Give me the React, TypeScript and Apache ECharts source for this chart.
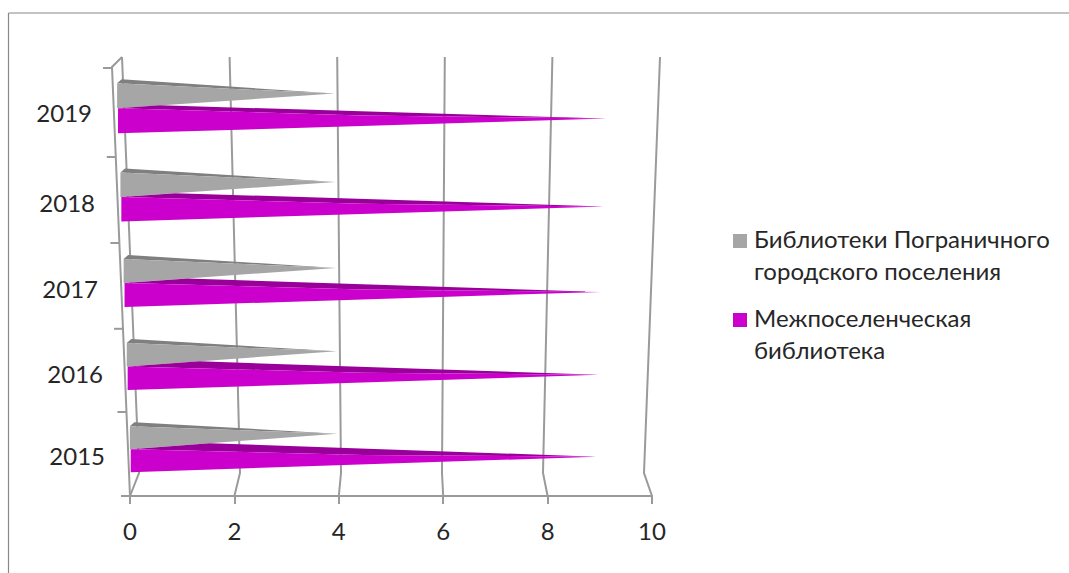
import React, { useEffect, useRef } from "react";
import * as echarts from "echarts";

const years = ["2015", "2016", "2017", "2018", "2019"];
const borderLibraries = [4, 4, 4, 4, 4];
const interLibrary = [9, 9, 9, 9, 9];
const gridValues = [0, 2, 4, 6, 8, 10];
const grayName = "Библиотеки Пограничного городского поселения";
const pinkName = "Межпоселенческая библиотека";
const legendWrapped: Record<string, string> = {
  [grayName]: "{e| }\n{t|Библиотеки Пограничного}\n{t|городского поселения}",
  [pinkName]: "{e| }\n{t|Межпоселенческая}\n{t|библиотека}",
};
const labelShiftRight = [0, 2, 7, 10, 13];
const labelShiftDown = [2.5, 6, 6.5, 6.5, 2];
const tickShift = [0, 1.6, 4, 3.8, 3.4, 0];
const pinkPeak = [79, 72, 63, 54, 42];
const coneShift = [-4, -1, 1, 0.5, -2.5];

const FONT = "Lato, 'Open Sans', sans-serif";
const TEXT = "#262626";
const LINE = "#9a9a9a";

const lerp = (a: number, b: number, t: number) => a + (b - a) * t;
// horizontal lean of the cones caused by the 3D perspective
const lean = (v: number, y: number) => {
  const t = (460 - y) / 340;
  return lerp(0.7 - 0.5 * v, -12 + 2 * v, t);
};
// lean of the back wall
const wallLean = (v: number, t: number) => lerp(9 - 1.7 * v, -8 + 1.6 * v, t);

const line = (pts: number[][]) => ({
  type: "polyline",
  silent: true,
  shape: { points: pts },
  style: { stroke: LINE, lineWidth: 2, fill: "none" },
});

const renderFrame = (params: any, api: any) => {
  const v = api.value(0);
  const band = api.size([0, 1])[1];
  const [fx, cy] = api.coord([v, 0]);
  const base = cy + band / 2;
  const backY = base - 23;
  const topY = base - 439;
  const children: any[] = [
    line([
      [fx, base],
      [fx + wallLean(v, 0), backY],
      [fx + wallLean(v, 1), topY],
    ]),
  ];
  if (params.dataIndex === 0) {
    const frontAt = (y: number) => lerp(fx, fx - 18, (base - y) / (base - 67));
    children.push(
      line([
        [fx, base],
        [fx - 18, base - 429],
        [fx + wallLean(v, 1), topY],
      ]),
    );
    tickShift.forEach((s, i) => {
      const y = base - band * i + s;
      children.push(line([[frontAt(y) - 9, y], [frontAt(y), y]]));
    });
  }
  return { type: "group", children };
};

const renderCone = (light: string, dark: string, pink: boolean) => (params: any, api: any) => {
  const i = api.value(1);
  const val = api.value(0);
  const [, cy] = api.coord([0, i]);
  const y0 = cy + coneShift[i];
  const h = lerp(23, 25, i / 4);
  const topY = pink ? y0 : y0 - h;
  const botY = topY + h;
  const x = api.coord([0, i])[0] + lean(0, (topY + botY) / 2);
  const tipY = (topY + botY) / 2 - lerp(4, 2.2, i / 4);
  const tipX = api.coord([val, i])[0] + lean(val, tipY);
  const peak = pink ? [x + pinkPeak[i], topY - lerp(6, 3, i / 4)] : [x + 4.5, topY - 4];
  // the lit face of the long cone bends slightly at mid-length
  const bend = pink ? [[(x + tipX) / 2, (topY + tipY) / 2 + 2]] : [];
  return {
    type: "group",
    children: [
      {
        type: "polygon",
        shape: { points: [[x, topY], peak, [tipX, tipY], ...bend] },
        style: { fill: dark },
      },
      {
        type: "polygon",
        shape: { points: [[x, topY], ...bend, [tipX, tipY], [x, botY]] },
        style: { fill: light },
      },
    ],
  };
};

const toRows = (vals: number[]) => vals.map((v, i) => [v, i]);

export default function App() {
  const ref = useRef<HTMLDivElement>(null);
  useEffect(() => {
    const chart = echarts.init(ref.current!, undefined, { renderer: "svg" });
    const rich: Record<string, any> = {};
    years.forEach((y, i) => {
      rich["y" + y] = {
        fontFamily: FONT,
        fontSize: 24,
        color: TEXT,
        padding: [labelShiftDown[i] * 2, labelShiftRight[i], 0, 0],
      };
    });
    chart.setOption({
      animation: false,
      backgroundColor: "#ffffff",
      textStyle: { fontFamily: FONT },
      grid: { left: 130, top: 68, width: 522, height: 428, containLabel: false },
      xAxis: {
        type: "value",
        min: 0,
        max: 10,
        interval: 2,
        splitLine: { show: false },
        axisLine: { show: true, lineStyle: { color: LINE, width: 2 } },
        axisTick: { show: true, length: 8, lineStyle: { color: LINE, width: 2 } },
        axisLabel: { color: TEXT, fontSize: 24, fontFamily: FONT, margin: 22 },
      },
      yAxis: {
        type: "category",
        data: years,
        axisLine: { show: false },
        axisTick: { show: false },
        splitLine: { show: false },
        axisLabel: {
          margin: 25,
          formatter: (y: string) => `{y${y}|${y}}`,
          rich,
        },
      },
      legend: {
        data: [grayName, pinkName],
        orient: "vertical",
        left: 733,
        top: 203,
        padding: 0,
        icon: "rect",
        itemWidth: 14,
        itemHeight: 14,
        itemGap: 0,
        selectedMode: false,
        formatter: (n: string) => legendWrapped[n],
        textStyle: {
          color: TEXT,
          fontFamily: FONT,
          fontSize: 24,
          padding: [0, 0, 0, 2],
          rich: {
            e: { fontSize: 12, lineHeight: 26, fontFamily: FONT },
            t: { fontSize: 24, lineHeight: 32, fontFamily: FONT, color: TEXT },
          },
        },
      },
      graphic: [
        { type: "line", silent: true, shape: { x1: 8.5, y1: 13, x2: 1069, y2: 13 }, style: { stroke: "#888888", lineWidth: 1.2 } },
        { type: "line", silent: true, shape: { x1: 8.5, y1: 13, x2: 8.5, y2: 573 }, style: { stroke: "#888888", lineWidth: 1.2 } },
      ],
      series: [
        {
          type: "custom",
          name: "frame",
          silent: true,
          renderItem: renderFrame,
          encode: { x: 0, y: 1 },
          data: gridValues.map((v) => [v, 0]),
          z: 1,
        },
        {
          type: "custom",
          name: grayName,
          itemStyle: { color: "#a6a6a6" },
          renderItem: renderCone("#a6a6a6", "#7f7f7f", false),
          encode: { x: 0, y: 1 },
          data: toRows(borderLibraries),
          z: 2,
        },
        {
          type: "custom",
          name: pinkName,
          itemStyle: { color: "#cc00cc" },
          renderItem: renderCone("#cc00cc", "#990099", true),
          encode: { x: 0, y: 1 },
          data: toRows(interLibrary),
          z: 3,
        },
      ],
    });
    return () => chart.dispose();
  }, []);
  return <div ref={ref} style={{ position: "fixed", left: 0, top: 0, width: 1069, height: 573 }} />;
}
